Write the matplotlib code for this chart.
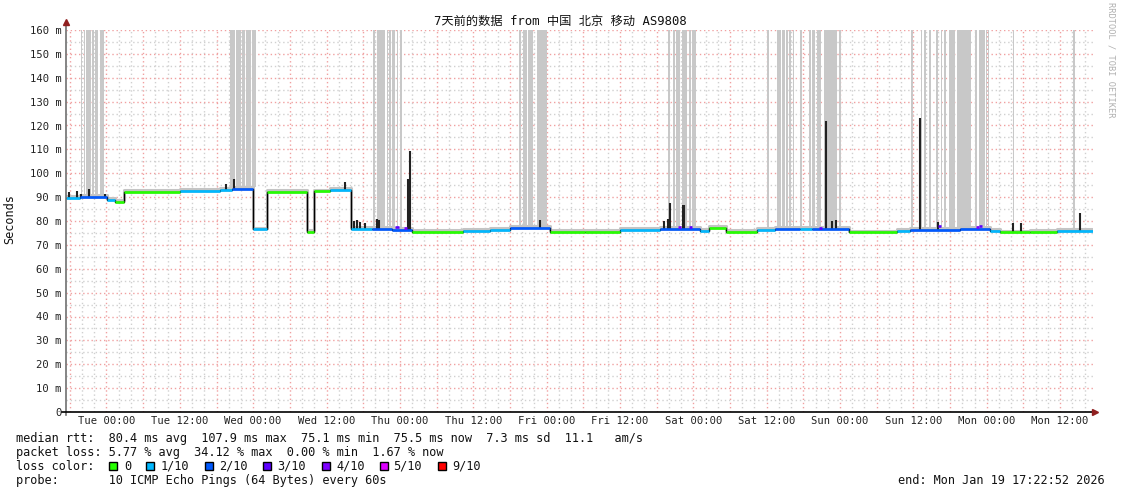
import matplotlib
matplotlib.use("Agg")
import matplotlib.pyplot as plt
import numpy as np

# Data (x = hours since Mon 17:22:52, y = ms)
tick_hours = [6.62 + 12 * k for k in range(14)]
tick_labels = ['Tue 00:00', 'Tue 12:00', 'Wed 00:00', 'Wed 12:00', 'Thu 00:00',
               'Thu 12:00', 'Fri 00:00', 'Fri 12:00', 'Sat 00:00', 'Sat 12:00',
               'Sun 00:00', 'Sun 12:00', 'Mon 00:00', 'Mon 12:00']

median_hours = [0.0, 2.29, 6.71, 8.02, 9.49, 18.65, 25.19, 27.16, 30.59, 32.88,
                39.42, 40.57, 43.19, 46.62, 50.06, 53.33, 56.60, 64.94, 69.36, 72.63,
                79.18, 84.90, 90.63, 97.17, 103.71, 105.18, 107.97, 113.04, 115.98, 120.07,
                122.04, 128.09, 135.94, 138.07, 146.25, 151.15, 152.79, 157.70, 162.10]
median_values = [89.8, 90.0, 89.0, 88.0, 92.2, 92.7, 93.0, 93.6, 76.5, 92.2,
                 75.4, 92.4, 93.0, 76.6, 76.8, 76.4, 75.5, 76.0, 76.3, 77.0,
                 75.6, 75.5, 76.2, 76.8, 76.0, 77.2, 75.5, 76.3, 76.6, 76.6,
                 76.8, 75.3, 75.8, 76.4, 76.8, 76.0, 75.3, 75.4, 75.8]
median_loss = [1, 2, 1, 0, 0, 1, 1, 2, 1, 0,
               0, 0, 1, 1, 2, 2, 0, 1, 1, 2,
               0, 0, 1, 2, 1, 0, 0, 1, 2, 1,
               2, 0, 1, 2, 2, 1, 0, 0, 1]
end_hour = 168.0

# points with higher loss (3/10, 4/10)
purple_hours = [53.9, 55.3, 100.1, 101.9, 123.2, 142.7, 148.9, 149.3]
purple_values = [77.4, 77.0, 77.6, 77.3, 77.2, 77.8, 77.5, 77.9]
purple_loss = [3, 4, 4, 3, 3, 3, 4, 3]

smoke_start = [2.45, 2.94, 3.27, 4.25, 4.74, 5.56, 26.83, 27.81, 28.79, 29.45, 30.43,
               50.22, 50.88, 52.51, 52.84, 53.33, 54.15, 54.64, 74.11, 74.76, 75.58,
               77.05, 78.03, 98.48, 99.30, 99.79, 100.77, 101.91, 102.40, 114.67, 116.31,
               117.13, 117.78, 118.27, 118.93, 120.07, 121.54, 122.03, 122.85, 123.97, 126.45,
               138.23, 139.87, 140.36, 141.17, 142.32, 143.14, 143.63, 144.45, 145.76, 148.70,
               149.35, 150.50, 150.83, 154.92, 164.73]
smoke_end = [2.62, 3.11, 4.09, 4.58, 5.23, 6.22, 27.65, 28.63, 29.28, 30.26, 31.08,
             50.55, 52.19, 52.67, 53.17, 53.82, 54.31, 54.96, 74.43, 75.41, 76.39,
             78.03, 78.69, 98.81, 99.62, 100.44, 101.59, 102.24, 103.06, 115.00, 116.96,
             117.62, 118.11, 118.60, 119.09, 120.40, 121.87, 122.52, 123.51, 126.13, 126.78,
             138.56, 140.03, 140.68, 141.50, 142.64, 143.30, 143.96, 145.43, 148.05, 149.03,
             150.34, 150.66, 150.99, 155.08, 165.06]

spike_hours = [0.49, 1.80, 2.45, 3.76, 6.38, 26.17, 27.48, 45.64, 47.11, 47.60, 48.10,
               48.90, 50.88, 51.20, 55.95, 56.27, 77.54, 97.83, 98.50, 98.80, 100.93,
               101.10, 124.30, 125.30, 125.96, 139.70, 142.60, 154.90, 156.20, 165.90]
spike_tops = [92.0, 92.5, 91.5, 93.5, 91.5, 95.5, 97.5, 96.5, 80.0, 80.5, 79.5,
              79.0, 81.0, 80.5, 97.5, 109.5, 80.5, 80.0, 81.0, 87.5, 86.5,
              86.5, 122.0, 80.0, 80.5, 123.0, 79.5, 79.0, 79.0, 83.5]

loss_labels = ['0', '1/10', '2/10', '3/10', '4/10', '5/10', '9/10']
loss_colors = ['#26ff00', '#00b8ff', '#0059ff', '#5e00ff', '#7e00ff', '#dd00ff', '#ff0000']

W, H = 1121, 494
fig = plt.figure(figsize=(W / 100, H / 100), dpi=100)
fig.patch.set_facecolor('white')
ax = fig.add_axes([66 / W, (H - 412) / H, 1027 / W, 382 / H])
ax.set_xlim(0, end_hour)
ax.set_ylim(0, 160)
for s in ax.spines.values():
    s.set_visible(False)

# grid
for h in np.arange(0.62, end_hour, 2.0):
    major = abs(((h - 0.62) / 6) - round((h - 0.62) / 6)) < 1e-6
    ax.axvline(h, color='#f0a0a0' if major else '#d0d0d0', lw=1,
               linestyle=(0, (1, 2)), zorder=1)
for v in range(5, 161, 5):
    ax.axhline(v, color='#f0a0a0' if v % 10 == 0 else '#d0d0d0', lw=1,
               linestyle=(0, (1, 2)), zorder=1)

mh = np.array(median_hours)
mv = np.array(median_values)


def level_at(h):
    return mv[np.searchsorted(mh, h, side='right') - 1]


# smoke bars
for a, b in zip(smoke_start, smoke_end):
    base = level_at(a) + 0.8
    ax.bar(a, 162 - base, width=max(b - a, 0.15), bottom=base, align='edge',
           color='#c8c8c8', lw=0, zorder=2)

# light smoke around median
xs = np.append(mh, end_hour)
ys = np.append(mv, mv[-1])
ax.step(xs, ys + 0.7, where='post', color='#c4c4c4', lw=2.2, zorder=3)

# spikes
for h, t in zip(spike_hours, spike_tops):
    ax.vlines(h, level_at(h), t, color='#222222', lw=1.5, zorder=4)

# median line: black steps, coloured levels
ax.step(xs, ys, where='post', color='black', lw=1, zorder=5)
for i in range(len(mh)):
    ax.hlines(mv[i], xs[i], xs[i + 1], color=loss_colors[median_loss[i]],
              lw=1.9, zorder=6)
for h, v, l in zip(purple_hours, purple_values, purple_loss):
    ax.hlines(v, h, h + 0.5, color=loss_colors[l], lw=1.9, zorder=7)

# ticks
ax.set_xticks(tick_hours)
ax.set_xticklabels(tick_labels)
ax.set_yticks(range(0, 161, 10))
ax.set_yticklabels(['0'] + ['%d m' % v for v in range(10, 161, 10)])
ax.tick_params(length=0, labelsize=7.6, pad=3)
for lab in ax.get_xticklabels() + ax.get_yticklabels():
    lab.set_family('DejaVu Sans Mono')
    lab.set_color('#222222')

# axes lines and arrows
fig.add_artist(plt.Line2D([66 / W, 66 / W], [(H - 415) / H, (H - 24) / H],
                          color='#707070', lw=1.2))
fig.add_artist(plt.Line2D([62 / W, 1094 / W], [(H - 412) / H, (H - 412) / H],
                          color='black', lw=1.2))
fig.add_artist(plt.Line2D([66 / W], [(H - 22) / H], marker='^', color='#902020',
                          markersize=4))
fig.add_artist(plt.Line2D([1095 / W], [(H - 412) / H], marker='>', color='#902020',
                          markersize=4))


def ftext(x, y, s, **kw):
    kw.setdefault('family', 'DejaVu Sans Mono')
    kw.setdefault('size', 8.55)
    kw.setdefault('color', '#111111')
    kw.setdefault('va', 'center')
    fig.text(x / W, 1 - y / H, s, **kw)


ftext(560, 21, '7天前的数据 from 中国 北京 移动 AS9808', ha='center', size=8.8,
      family=['DejaVu Sans Mono', 'Noto Sans CJK SC'])
ftext(10, 219, 'Seconds', ha='center', rotation=90)
ftext(1111, 60, 'RRDTOOL / TOBI OETIKER', ha='center', rotation=-90, size=6.2,
      color='#b0b0b0')

ftext(16, 438, 'median rtt:  80.4 ms avg  107.9 ms max  75.1 ms min  75.5 ms now  7.3 ms sd  11.1   am/s')
ftext(16, 452, 'packet loss: 5.77 % avg  34.12 % max  0.00 % min  1.67 % now')
ftext(16, 466, 'loss color:')
ftext(16, 480, 'probe:       10 ICMP Echo Pings (64 Bytes) every 60s')
ftext(1105, 480, 'end: Mon Jan 19 17:22:52 2026', ha='right')

box_x = [109, 146, 205, 263, 322, 380, 438]
text_x = [124, 161, 219, 277, 336, 393, 452]
for bx, tx, c, lab in zip(box_x, text_x, loss_colors, loss_labels):
    fig.add_artist(plt.Rectangle((bx / W, 1 - 470 / H), 8 / W, 8 / H,
                                 facecolor=c, edgecolor='black', lw=1))
    ftext(tx, 466, lab)

fig.savefig('out.png', dpi=100)
